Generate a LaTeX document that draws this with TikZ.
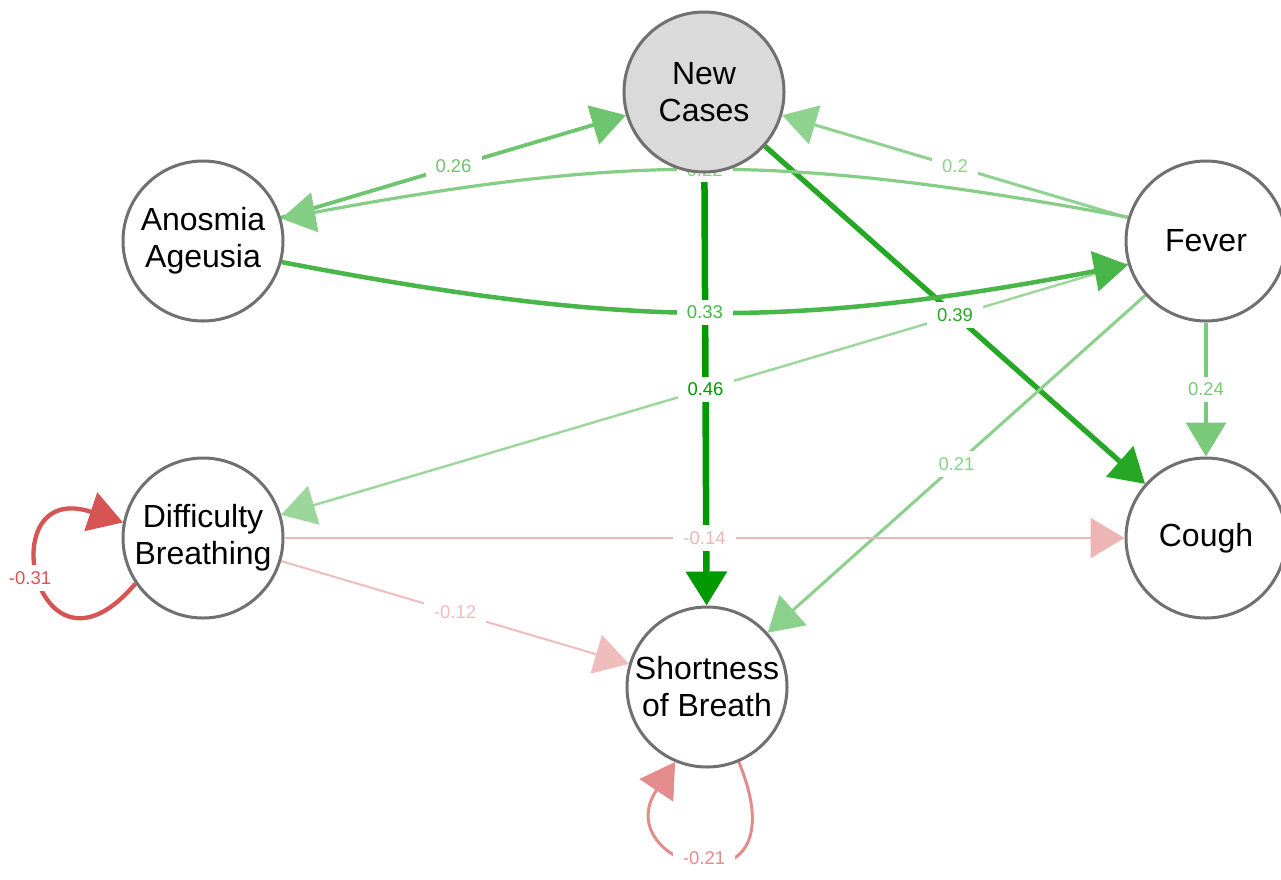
\documentclass[tikz,border=0pt]{standalone}
\usepackage{fontspec}
\setmainfont{Liberation Sans}
\usetikzlibrary{arrows.meta}

% drawing order: edges, then edge labels, then the variable circles
\pgfdeclarelayer{edgelayer}
\pgfdeclarelayer{labellayer}
\pgfsetlayers{edgelayer,labellayer,main}

% node colours
\definecolor{nodegray}{HTML}{707070}
\definecolor{ncfill}{HTML}{DADADA}
% positive weights (green, faded by size)
\definecolor{pA}{HTML}{009900} % 0.46
\definecolor{pB}{HTML}{26A826} % 0.39
\definecolor{pC}{HTML}{48B648} % 0.33
\definecolor{pD}{HTML}{6FC56F} % 0.26
\definecolor{pE}{HTML}{7ACA7A} % 0.24
\definecolor{pF}{HTML}{85CE85} % 0.22
\definecolor{pG}{HTML}{8BD08B} % 0.21
\definecolor{pH}{HTML}{90D390} % 0.2
\definecolor{pI}{HTML}{9BD79B} % fever -> difficulty breathing
% negative weights (red, faded by size)
\definecolor{nA}{HTML}{D65454} % -0.31
\definecolor{nB}{HTML}{E48B8B} % -0.21
\definecolor{nC}{HTML}{EFB5B5} % -0.14
\definecolor{nD}{HTML}{F0BDBD} % -0.12

\tikzset{
  var/.style={circle, draw=nodegray, line width=3pt, fill=white,
    minimum size=160pt, inner sep=0pt, align=center,
    font=\fontsize{32}{37}\selectfont},
  edgeline/.style={-{Triangle[length=34pt,width=40pt]}},
  wlabel/.style={fill=white, inner xsep=10pt, inner ysep=6pt,
    font=\fontsize{18.5}{20}\selectfont},
}

\begin{document}
\begin{tikzpicture}[x=1pt,y=-1pt]
\useasboundingbox (0,0) rectangle (1281,879);

% variables
\node[var, fill=ncfill] (nc)  at (704,92)   {New\\Cases};
\node[var]              (ano) at (203,241)  {Anosmia\\Ageusia};
\node[var]              (fev) at (1206,241) {Fever};
\node[var]              (db)  at (203,538)  {Difficulty\\Breathing};
\node[var]              (cou) at (1206,538) {Cough};
\node[var]              (sob) at (707,687)  {Shortness\\of Breath};

% label spots of the two self-loops
\coordinate (mDD) at (30,578);
\coordinate (mSS) at (704,858);

\begin{pgfonlayer}{edgelayer}
  \fill[white] (0,0) rectangle (1281,879);
  % straight edges
  \draw[edgeline, pD, line width=3.8pt] (ano) -- coordinate (mAN) (nc);
  \draw[edgeline, pH, line width=3pt]   (fev) -- coordinate (mFN) (nc);
  \draw[edgeline, pA, line width=6.5pt] (nc)  -- coordinate (mNS) (sob);
  \draw[edgeline, pB, line width=5.2pt] (nc)  -- coordinate (mNC) (cou);
  \draw[edgeline, pE, line width=3.4pt] (fev) -- coordinate (mFC) (cou);
  \draw[edgeline, pG, line width=3pt]   (fev) -- coordinate (mFS) (sob);
  \draw[edgeline, pI, line width=2.4pt] (fev) -- (db);
  \draw[edgeline, nC, line width=2.2pt] (db)  -- coordinate (mDC) (cou);
  \draw[edgeline, nD, line width=2pt]   (db)  -- coordinate (mDS) (sob);
  % curved pair between Anosmia/Ageusia and Fever
  \draw[edgeline, pF, line width=3.2pt]
    (fev.163) .. controls +(-345,-64) and +(345,-64) .. coordinate (mFA) (ano.16);
  \draw[edgeline, pC, line width=4.5pt]
    (ano.-15) .. controls +(340,65) and +(-340,65) .. coordinate (mAF) (fev.197);
  % self-loops
  \draw[edgeline, nA, line width=4.3pt]
    (db.214) .. controls +(-100,118) and +(-135,-45) .. (db.169);
  \draw[edgeline, nB, line width=3pt]
    (sob.-67) .. controls +(66,160) and +(-70,105) .. (sob.-113);
\end{pgfonlayer}

\begin{pgfonlayer}{labellayer}
  \node[wlabel, text=pD] at (mAN) {0.26};
  \node[wlabel, text=pF] at (mFA) {0.22};
  \node[wlabel, text=pH] at (mFN) {0.2};
  \node[wlabel, text=pC] at (mAF) {0.33};
  \node[wlabel, text=pB] at (mNC) {0.39};
  \node[wlabel, text=pA] at (mNS) {0.46};
  \node[wlabel, text=pE] at (mFC) {0.24};
  \node[wlabel, text=pG] at (mFS) {0.21};
  \node[wlabel, text=nC] at (mDC) {-0.14};
  \node[wlabel, text=nD] at (mDS) {-0.12};
  \node[wlabel, text=nA] at (mDD) {-0.31};
  \node[wlabel, text=nB] at (mSS) {-0.21};
\end{pgfonlayer}
\end{tikzpicture}
\end{document}
